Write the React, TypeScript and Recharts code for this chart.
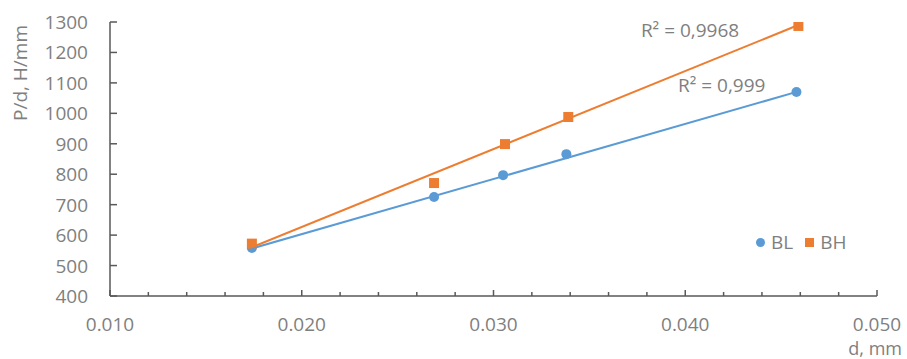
import {
	Label,
	ReferenceDot,
	Scatter,
	ScatterChart,
	XAxis,
	YAxis,
} from "recharts"

// measurements: specimen size d (mm) vs. specific load P/d (H/mm)
const dBL = [0.0174, 0.0269, 0.0305, 0.0338, 0.0458]
const pBL = [558, 725, 797, 866, 1070]
const dBH = [0.0174, 0.0269, 0.0306, 0.0339, 0.0459]
const pBH = [572, 771, 899, 988, 1287]

// linear trend lines, start and end
const trendD = [0.0174, 0.0459]
const trendBL = [556, 1072]
const trendBH = [560, 1290]

const r2BL = "R² = 0,999"
const r2BH = "R² = 0,9968"

const xMajorTicks = [0.01, 0.02, 0.03, 0.04, 0.05]
const xAllTicks = [
	0.01, 0.012, 0.014, 0.016, 0.018, 0.02, 0.022, 0.024, 0.026, 0.028, 0.03,
	0.032, 0.034, 0.036, 0.038, 0.04, 0.042, 0.044, 0.046, 0.048, 0.05,
]
const yTicks = [400, 500, 600, 700, 800, 900, 1000, 1100, 1200, 1300]

const BLUE = "#5B9BD5"
const ORANGE = "#ED7D31"
const TEXT = "#7f7f7f"
const AXIS = "#595959"
const FONT = "'Open Sans', sans-serif"

const toPoints = (xs: number[], ys: number[]) => xs.map((d, i) => ({ d, p: ys[i] }))

const blPoints = toPoints(dBL, pBL)
const bhPoints = toPoints(dBH, pBH)
const blTrend = toPoints(trendD, trendBL)
const bhTrend = toPoints(trendD, trendBH)

const isMajor = (v: number) => xMajorTicks.some((m) => Math.abs(m - v) < 1e-6)

function XTick(props: any) {
	const { x, y, payload } = props
	const major = isMajor(payload.value)
	return (
		<g>
			<line x1={x} y1={y} x2={x} y2={y - (major ? 6 : 4)} stroke={AXIS} strokeWidth={1.5} />
			{major && (
				<text x={x} y={y + 35} textAnchor="middle" fill={TEXT} fontSize={19} fontFamily={FONT}>
					{payload.value.toFixed(3)}
				</text>
			)}
		</g>
	)
}

function YTick(props: any) {
	const { x, y, payload } = props
	return (
		<g>
			<line x1={x} y1={y} x2={x + 7} y2={y} stroke={AXIS} strokeWidth={1.5} />
			<text x={x - 22} y={y + 7} textAnchor="end" fill={TEXT} fontSize={19} fontFamily={FONT}>
				{payload.value}
			</text>
		</g>
	)
}

const Circle = (props: any) => <circle cx={props.cx} cy={props.cy} r={5} fill={BLUE} />
const Square = (props: any) => (
	<rect x={props.cx - 5} y={props.cy - 5} width={10} height={10} fill={ORANGE} />
)
const NoMark = () => <g />

function LegendBox() {
	return (
		<div
			style={{
				position: "absolute",
				left: 756,
				top: 229,
				display: "flex",
				alignItems: "center",
				fontFamily: FONT,
				fontSize: 19,
				color: TEXT,
			}}
		>
			<span style={{ width: 9, height: 9, borderRadius: "50%", background: BLUE, marginRight: 6 }} />
			<span style={{ marginRight: 12 }}>BL</span>
			<span style={{ width: 9, height: 9, background: ORANGE, marginRight: 6 }} />
			<span>BH</span>
		</div>
	)
}

export default function App() {
	return (
		<div style={{ position: "absolute", left: 0, top: 0, width: 907, height: 359, background: "#fff" }}>
			<ScatterChart width={907} height={359} margin={{ top: 22, right: 30, bottom: 23, left: 50 }}>
				<XAxis
					type="number"
					dataKey="d"
					domain={[0.01, 0.05]}
					ticks={xAllTicks}
					interval={0}
					tickSize={0}
					tickMargin={0}
					tick={<XTick />}
					height={40}
					stroke={AXIS}
					strokeWidth={1.5}
					allowDataOverflow
				>
					<Label
						content={() => (
							<text x={902} y={355} textAnchor="end" fill={TEXT} fontSize={18} fontFamily={FONT}>
								d, mm
							</text>
						)}
					/>
				</XAxis>
				<YAxis
					type="number"
					dataKey="p"
					domain={[400, 1300]}
					ticks={yTicks}
					interval={0}
					tickSize={0}
					tickMargin={0}
					tick={<YTick />}
					width={60}
					stroke={AXIS}
					strokeWidth={1.5}
					allowDataOverflow
				>
					<Label
						content={() => (
							<text
								x={20}
								y={73}
								transform="rotate(-90 20 73)"
								textAnchor="middle"
								dominantBaseline="central"
								fill={TEXT}
								fontSize={19}
								fontFamily={FONT}
							>
								P/d, H/mm
							</text>
						)}
					/>
				</YAxis>
				<Scatter name="BL" data={blPoints} fill={BLUE} shape={<Circle />} isAnimationActive={false} />
				<Scatter name="BH" data={bhPoints} fill={ORANGE} shape={<Square />} isAnimationActive={false} />
				<Scatter
					data={blTrend}
					line={{ stroke: BLUE, strokeWidth: 2 }}
					shape={<NoMark />}
					legendType="none"
					isAnimationActive={false}
				/>
				<Scatter
					data={bhTrend}
					line={{ stroke: ORANGE, strokeWidth: 2 }}
					shape={<NoMark />}
					legendType="none"
					isAnimationActive={false}
				/>
				<ReferenceDot
					x={0.04025}
					y={1274}
					r={0}
					fill="none"
					stroke="none"
					label={{ value: r2BH, position: "center", fill: TEXT, fontSize: 19, fontFamily: FONT }}
				/>
				<ReferenceDot
					x={0.0419}
					y={1093}
					r={0}
					fill="none"
					stroke="none"
					label={{ value: r2BL, position: "center", fill: TEXT, fontSize: 19, fontFamily: FONT }}
				/>
			</ScatterChart>
			<LegendBox />
		</div>
	)
}
